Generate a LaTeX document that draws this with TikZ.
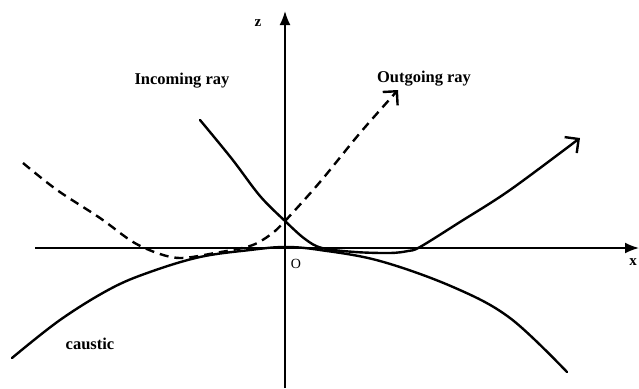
\documentclass[tikz,border=0pt]{standalone}
\usepackage{fontspec}
\setmainfont{Liberation Serif}
\usetikzlibrary{arrows.meta}
\begin{document}
\begin{tikzpicture}[x=1pt,y=-1pt,
  axis/.style={line width=1.8pt,-{Latex[length=14pt,width=11pt]}},
  curve/.style={line width=2.4pt,line cap=round,line join=round},
  ray/.style={curve,-{Straight Barb[length=10pt,width=20pt,line width=2.4pt]}},
  dashray/.style={ray,dash pattern=on 9pt off 6pt,line cap=butt},
  lbl/.style={font=\fontsize{16.5}{18}\selectfont\bfseries,inner sep=0pt},
  axl/.style={font=\fontsize{15}{17}\selectfont\bfseries,inner sep=0pt}]
\useasboundingbox (0,0) rectangle (639,388);
% axes
\coordinate (zb) at (285,388);
\coordinate (zt) at (285,11);
\coordinate (xl) at (35,248);
\coordinate (xr) at (639,248);
\draw[axis] (xl) -- (xr);
\draw[axis] (zb) -- (zt);
\node[axl] (zlab) at (258,23) {z};
\node[axl] (xlab) at (633,262) {x};
\node[axl,font=\fontsize{14}{16}\selectfont] (olab) at (296,264) {O};
% caustic
\draw[curve] plot[smooth,tension=0.6] coordinates {(12,358) (60,320) (110,289) (150,272) (200,257) (250,250) (285,247) (320,250) (380,261) (453,287) (510,318) (567,372)};
% solid ray
\draw[ray] plot[smooth,tension=0.55] coordinates {(200,120) (232,159) (260,196) (285,221) (305,239) (322,248) (355,252) (390,253) (408,251) (420,247) (460,222) (510,190) (580,138)};
% dashed ray
\draw[dashray] plot[smooth,tension=0.55] coordinates {(23,163) (57,190) (100,218) (133,242) (160,254) (182,258) (215,253) (250,246) (270,235) (285,221) (320,182) (360,133) (398,90)};
% labels
\node[lbl] (inc) at (182,81) {Incoming ray};
\node[lbl] (out) at (424,79) {Outgoing ray};
\node[lbl] (cau) at (90,344) {caustic};
\end{tikzpicture}
\end{document}
